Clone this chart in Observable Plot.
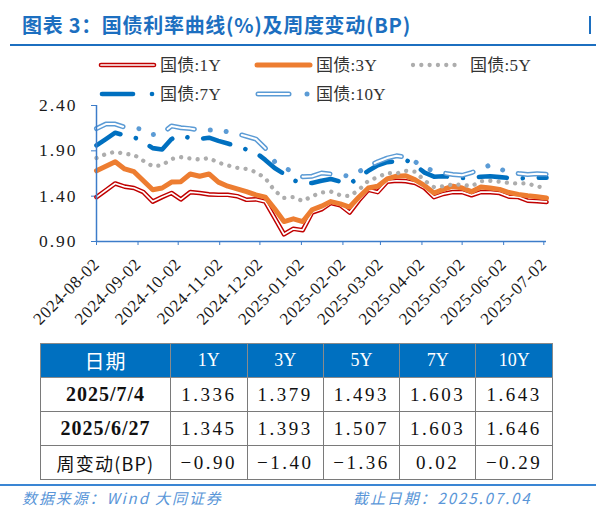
<!DOCTYPE html>
<html><head><meta charset="utf-8">
<script src="https://cdn.jsdelivr.net/npm/d3@7"></script>
<script src="https://cdn.jsdelivr.net/npm/@observablehq/plot@0.6"></script>
<style>
html,body{margin:0;padding:0;background:#fff;}
#page{position:relative;width:596px;height:512px;overflow:hidden;background:#fff;font-family:"Liberation Serif","Noto Sans CJK SC",serif;}
#title{position:absolute;left:22px;top:10px;font-family:"Noto Sans CJK SC",sans-serif;font-weight:bold;font-size:20px;color:#1C6FC0;white-space:nowrap;letter-spacing:0.7px;}
#rule1{position:absolute;left:10px;top:44px;width:586px;height:2px;background:#1C6FC0;}
#bar{position:absolute;left:589px;top:16px;width:2px;height:18px;background:#1C6FC0;}
#legend{position:absolute;left:0;top:50px;}
#chart{position:absolute;left:0;top:85px;}
#tbl{position:absolute;left:40px;top:343px;border-collapse:collapse;table-layout:fixed;}
#tbl td,#tbl th{border:1.5px solid #7a7a7a;padding:0;text-align:center;vertical-align:middle;height:33px;}
#tbl th{background:#0070C0;color:#fff;font-weight:normal;font-size:18px;font-family:"Liberation Serif","Noto Sans CJK SC",serif;border-color:#8a8a8a;}
#tbl th.first{font-family:"Noto Sans CJK SC",sans-serif;font-size:20px;letter-spacing:1px;}
#tbl td{font-size:19px;color:#111;letter-spacing:2.5px;}
#tbl td.first{letter-spacing:1px;font-weight:bold;font-size:20px;}
#tbl td.cn{font-weight:normal;font-family:"Noto Sans CJK SC",sans-serif;font-size:18px;letter-spacing:1.2px;}
#rule2{position:absolute;left:0;top:484px;width:596px;height:2px;background:#3A86D4;}
.foot{position:absolute;top:487px;font-family:"Noto Sans CJK SC",sans-serif;font-style:italic;font-size:15px;color:#5A96D8;letter-spacing:1.9px;white-space:nowrap;}
</style></head>
<body><div id="page">
<div id="title">图表 3：国债利率曲线(%)及周度变动(BP)</div>
<div id="bar"></div>
<div id="rule1"></div>
<div id="legend"></div>
<div id="chart"></div>
<table id="tbl"></table>
<div id="rule2"></div>
<div class="foot" style="left:22px;">数据来源：Wind 大同证券</div>
<div class="foot" style="left:353px;">截止日期：2025.07.04</div>
</div>
<script>
// ---------- data ----------
const dates = ["2024-08-02","2024-08-09","2024-08-16","2024-08-23","2024-08-30","2024-09-06","2024-09-13","2024-09-20","2024-09-27","2024-10-04","2024-10-11","2024-10-18","2024-10-25","2024-11-01","2024-11-08","2024-11-15","2024-11-22","2024-11-29","2024-12-06","2024-12-13","2024-12-20","2024-12-27","2025-01-03","2025-01-10","2025-01-17","2025-01-24","2025-01-31","2025-02-07","2025-02-14","2025-02-21","2025-02-28","2025-03-07","2025-03-14","2025-03-21","2025-03-28","2025-04-04","2025-04-11","2025-04-18","2025-04-25","2025-05-02","2025-05-09","2025-05-16","2025-05-23","2025-05-30","2025-06-06","2025-06-13","2025-06-20","2025-06-27","2025-07-04"];
const y1Y = [1.39,1.465,1.54,1.505,1.49,1.445,1.34,1.39,1.435,1.365,1.445,1.435,1.42,1.415,1.415,1.40,1.36,1.365,1.34,1.16,0.98,1.04,1.025,1.22,1.255,1.325,1.30,1.22,1.355,1.47,1.445,1.56,1.57,1.565,1.545,1.49,1.39,1.425,1.445,1.445,1.41,1.445,1.445,1.435,1.395,1.39,1.35,1.345,1.336];
const y3Y = [1.68,1.73,1.78,1.70,1.67,1.57,1.47,1.49,1.555,1.56,1.645,1.62,1.645,1.555,1.51,1.48,1.45,1.415,1.39,1.26,1.12,1.15,1.12,1.25,1.29,1.34,1.315,1.28,1.39,1.49,1.51,1.59,1.62,1.625,1.58,1.515,1.435,1.475,1.51,1.49,1.45,1.50,1.49,1.475,1.44,1.42,1.405,1.393,1.379];
const y5Y = [1.82,1.865,1.89,1.867,1.856,1.79,1.73,1.74,1.81,1.83,1.815,1.805,1.82,1.77,1.74,1.713,1.70,1.665,1.60,1.46,1.38,1.39,1.345,1.40,1.44,1.45,1.41,1.40,1.47,1.57,1.61,1.655,1.65,1.68,1.67,1.57,1.50,1.51,1.53,1.525,1.51,1.565,1.57,1.56,1.545,1.54,1.54,1.507,1.493];
const y7Y = [1.96,2.03,2.10,2.07,2.05,2.00,1.93,1.915,2.03,2.07,2.04,2.03,2.045,2.01,1.98,1.95,1.915,1.88,1.80,1.71,1.645,1.575,1.545,1.545,1.57,1.59,1.56,1.535,1.61,1.68,1.74,1.775,1.785,1.80,1.74,1.66,1.615,1.62,1.61,1.60,1.60,1.615,1.62,1.61,1.60,1.595,1.60,1.603,1.603];
const y10Y = [2.145,2.195,2.195,2.16,2.15,2.14,2.08,2.09,2.175,2.155,2.145,2.13,2.13,2.13,2.11,2.09,2.06,2.03,1.93,1.78,1.72,1.66,1.615,1.62,1.655,1.645,1.635,1.62,1.67,1.73,1.78,1.82,1.845,1.83,1.78,1.71,1.68,1.655,1.64,1.63,1.66,1.70,1.745,1.70,1.665,1.65,1.64,1.646,1.643];
const seriesNames = ["国债:1Y","国债:3Y","国债:5Y","国债:7Y","国债:10Y"];
const xTicks = ["2024-08-02","2024-09-02","2024-10-02","2024-11-02","2024-12-02","2025-01-02","2025-02-02","2025-03-02","2025-04-02","2025-05-02","2025-06-02","2025-07-02"];
const yTicks = [0.90,1.40,1.90,2.40];
const tableHead = ["日期","1Y","3Y","5Y","7Y","10Y"];
const rowLabels = ["2025/7/4","2025/6/27","周变动(BP)"];
const rowJul4 = ["1.336","1.379","1.493","1.603","1.643"];
const rowJun27 = ["1.345","1.393","1.507","1.603","1.646"];
const rowChange = ["−0.90","−1.40","−1.36","0.02","−0.29"];

// ---------- chart ----------
const parse = d3.utcParse("%Y-%m-%d");
const mk = arr => dates.map((d,i)=>({date: parse(d), v: arr[i]}));
const d1 = mk(y1Y), d3s = mk(y3Y), d5 = mk(y5Y), d7 = mk(y7Y), d10 = mk(y10Y);
const axisBlue = "#3C7CC9";
const xDomain = [parse(dates[0]), parse(dates[dates.length-1])];

const chart = Plot.plot({
  width: 596, height: 255,
  marginLeft: 96, marginRight: 50, marginTop: 20, marginBottom: 99,
  style: {fontFamily: "'Liberation Serif','Noto Sans CJK SC',serif", fontSize: "16px", color: "#1a1a1a", background: "transparent", overflow: "visible"},
  x: {type: "utc", domain: xDomain},
  y: {domain: [yTicks[0], yTicks[yTicks.length-1]]},
  marks: [
    Plot.axisY(yTicks, {tickFormat: d3.format(".2f"), tickSize: 5, tickPadding: 14, stroke: axisBlue, fill: "#1a1a1a", fontSize: 17.5, label: null}),
    Plot.axisX(xTicks.map(parse), {tickFormat: d3.utcFormat("%Y-%m-%d"), tickSize: 4, tickRotate: -45, tickPadding: 16, stroke: axisBlue, fill: "#1a1a1a", fontSize: 17, label: null}),
    Plot.line(d1, {x: "date", y: "v", stroke: "#C00000", strokeWidth: 4.6}),
    Plot.line(d1, {x: "date", y: "v", stroke: "#ffffff", strokeWidth: 1.7}),
    Plot.line(d3s, {x: "date", y: "v", stroke: "#ED7D31", strokeWidth: 5}),
    Plot.line(d5, {x: "date", y: "v", stroke: "#ADADAD", strokeWidth: 4.3, strokeDasharray: "0.01 8.3", strokeLinecap: "round"}),
    Plot.line(d7, {x: "date", y: "v", stroke: "#0070C0", strokeWidth: 4.6, strokeDasharray: "28 16 0.01 16", strokeLinecap: "round"}),
    Plot.line(d10, {x: "date", y: "v", stroke: "#5B9BD5", strokeWidth: 5, strokeDasharray: "28 16 0.01 16 0.01 16", strokeLinecap: "round"}),
    Plot.line(d10, {x: "date", y: "v", stroke: "#ffffff", strokeWidth: 2, strokeDasharray: "28 48.02", strokeLinecap: "round"}),
    Plot.ruleX([xDomain[0]], {stroke: axisBlue, strokeWidth: 1.5}),
    Plot.ruleY([yTicks[0]], {stroke: axisBlue, strokeWidth: 1.5})
  ]
});
d3.select(chart).selectAll('[aria-label="y-axis tick label"] text').style("letter-spacing", "2px");
d3.select(chart).selectAll('[aria-label="x-axis tick label"] text').style("letter-spacing", "0.6px");
document.getElementById("chart").appendChild(chart);

// ---------- legend ----------
const lg = d3.select("#legend").append("svg").attr("width", 596).attr("height", 58)
  .style("font-family", "'Liberation Serif','Noto Sans CJK SC',serif").style("font-size", "17px");
const items = [
  {x: 100, y: 15, name: seriesNames[0], kind: "1Y"},
  {x: 256, y: 15, name: seriesNames[1], kind: "3Y"},
  {x: 411, y: 15, name: seriesNames[2], kind: "5Y"},
  {x: 100, y: 44, name: seriesNames[3], kind: "7Y"},
  {x: 256, y: 44, name: seriesNames[4], kind: "10Y"}
];
for (const it of items) {
  const g = lg.append("g").attr("transform", `translate(${it.x},${it.y})`);
  const L = (x1,x2,stroke,w,dash) => g.append("line").attr("x1",x1).attr("x2",x2).attr("y1",0).attr("y2",0)
     .attr("stroke",stroke).attr("stroke-width",w).attr("stroke-linecap","round").attr("stroke-dasharray",dash||null);
  if (it.kind==="1Y") { L(1,54,"#C00000",4.6); L(1,54,"#fff",1.7); }
  if (it.kind==="3Y") { L(1,54,"#ED7D31",5); }
  if (it.kind==="5Y") { L(2,50,"#ADADAD",4.3,"0.01 8.3"); }
  if (it.kind==="7Y") { L(2,33,"#0070C0",4.6); L(52,52.01,"#0070C0",4.6); }
  if (it.kind==="10Y") { L(2,33,"#5B9BD5",5); L(2,33,"#fff",2); L(51,51.01,"#5B9BD5",5); }
  g.append("text").attr("x", it.kind==="5Y" ? 59 : 60).attr("y", 0).attr("dy", "0.36em").attr("fill", "#333").style("letter-spacing","0.3px").text(it.name);
}

// ---------- table ----------
const widths = [130, 76.5, 76.4, 76.1, 76.4, 76.5];
const tbl = d3.select("#tbl");
tbl.append("colgroup").selectAll("col").data(widths).join("col").style("width", d => d + "px");
tbl.append("tr").selectAll("th").data(tableHead).join("th").attr("class", (d,i)=> i===0 ? "first" : null).text(d => d);
const rows = [[rowLabels[0], ...rowJul4],[rowLabels[1], ...rowJun27],[rowLabels[2], ...rowChange]];
rows.forEach((r, ri) => {
  tbl.append("tr").selectAll("td").data(r).join("td")
    .attr("class", (d,i) => i===0 ? (ri===2 ? "first cn" : "first") : null)
    .text(d => d);
});
</script>
</body></html>
